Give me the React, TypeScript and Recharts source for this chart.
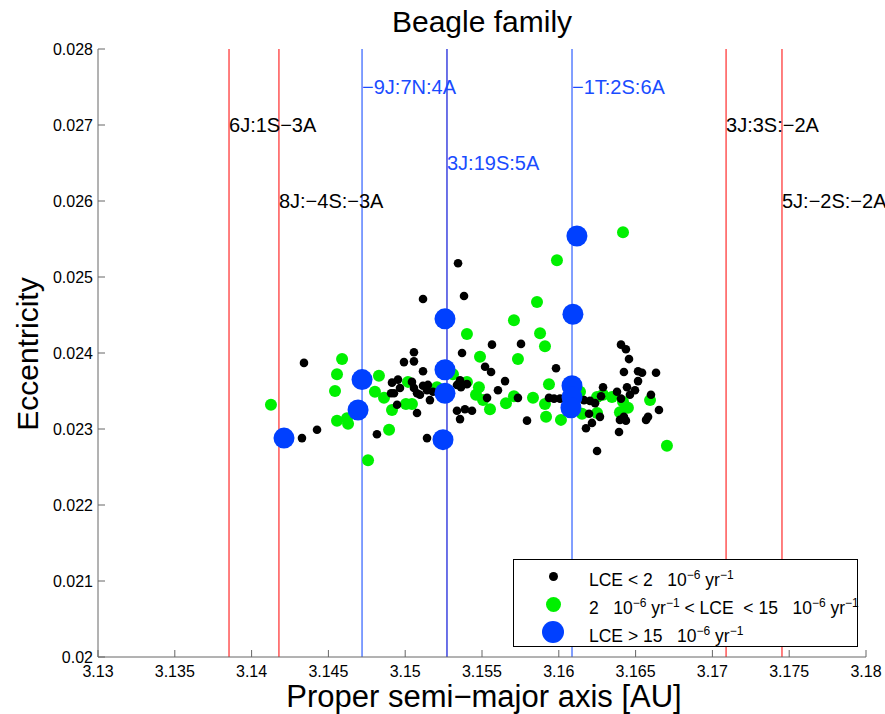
import React from 'react'
import { ScatterChart, Scatter, XAxis, YAxis, ReferenceLine } from 'recharts'

// proper semi-major axis [AU], eccentricity
const lowLce: [number, number][] = [
  [3.14341, 0.02387], [3.14426, 0.02299], [3.14328, 0.02288], [3.14816, 0.02293],
  [3.15057, 0.02401], [3.14992, 0.02388], [3.15057, 0.02389], [3.15116, 0.02376],
  [3.15116, 0.02471], [3.15344, 0.02518], [3.15383, 0.02475], [3.14914, 0.02361],
  [3.14953, 0.02365], [3.14908, 0.02347], [3.14927, 0.02347], [3.15044, 0.02362],
  [3.15057, 0.02354], [3.15077, 0.02347], [3.15116, 0.02357], [3.15148, 0.02358],
  [3.15142, 0.02351], [3.15161, 0.02338], [3.14947, 0.02332], [3.15077, 0.02321],
  [3.15142, 0.02288], [3.15370, 0.02400], [3.15357, 0.02364], [3.15337, 0.02358],
  [3.15402, 0.02359], [3.15363, 0.02355], [3.15337, 0.02324], [3.15389, 0.02326],
  [3.15435, 0.02324], [3.15357, 0.02313], [3.15565, 0.02411], [3.15754, 0.02412],
  [3.15520, 0.02382], [3.15559, 0.02375], [3.15650, 0.02363], [3.15982, 0.02380],
  [3.15604, 0.02351], [3.15533, 0.02341], [3.15734, 0.02341], [3.15936, 0.02341],
  [3.16008, 0.02340], [3.15793, 0.02311], [3.16164, 0.02338], [3.16203, 0.02337],
  [3.16236, 0.02334], [3.16275, 0.02343], [3.16288, 0.02355], [3.16197, 0.02320],
  [3.16216, 0.02308], [3.16268, 0.02316], [3.16177, 0.02301], [3.16249, 0.02271],
  [3.16392, 0.02296], [3.16405, 0.02411], [3.16437, 0.02405], [3.16457, 0.02392],
  [3.16424, 0.02375], [3.16516, 0.02376], [3.16542, 0.02374], [3.16516, 0.02363],
  [3.16633, 0.02374], [3.16444, 0.02355], [3.16496, 0.02351], [3.16463, 0.02345],
  [3.16405, 0.02340], [3.16379, 0.02349], [3.16600, 0.02345], [3.16652, 0.02325],
  [3.16581, 0.02316], [3.16568, 0.02312], [3.16424, 0.02316], [3.16437, 0.02311],
  [3.16398, 0.02312], [3.15969, 0.02340], [3.15181, 0.02349], [3.15096, 0.02345],
  [3.14966, 0.02354],
]

const midLce: [number, number][] = [
  [3.14126, 0.02332], [3.14589, 0.02392], [3.14556, 0.02372], [3.14543, 0.02350],
  [3.14556, 0.02311], [3.14621, 0.02314], [3.14628, 0.02307], [3.14758, 0.02259],
  [3.14829, 0.02370], [3.14803, 0.02349], [3.14862, 0.02341], [3.14914, 0.02325],
  [3.15005, 0.02333], [3.15044, 0.02333], [3.15018, 0.02362], [3.14895, 0.02299],
  [3.15207, 0.02355], [3.15311, 0.02372], [3.15402, 0.02425], [3.15487, 0.02395],
  [3.15734, 0.02392], [3.15878, 0.02426], [3.15910, 0.02409], [3.15936, 0.02359],
  [3.15402, 0.02362], [3.15480, 0.02355], [3.15461, 0.02345], [3.15507, 0.02338],
  [3.15552, 0.02326], [3.15656, 0.02334], [3.15708, 0.02343], [3.15832, 0.02341],
  [3.15910, 0.02333], [3.15917, 0.02316], [3.16014, 0.02312], [3.15988, 0.02522],
  [3.15858, 0.02467], [3.15708, 0.02443], [3.16418, 0.02559], [3.16151, 0.02320],
  [3.16138, 0.02349], [3.16249, 0.02342], [3.16249, 0.02321], [3.16288, 0.02345],
  [3.16346, 0.02342], [3.16418, 0.02336], [3.16450, 0.02328], [3.16398, 0.02322],
  [3.16594, 0.02338], [3.16704, 0.02278],
]

const highLce: [number, number][] = [
  [3.14211, 0.02288], [3.14719, 0.02365], [3.14693, 0.02325], [3.15259, 0.02445],
  [3.15259, 0.02378], [3.15259, 0.02347], [3.15246, 0.02286], [3.16118, 0.02554],
  [3.16092, 0.02451], [3.16086, 0.02357], [3.16086, 0.02342], [3.16079, 0.02328],
]

const resonanceA = [3.13853, 3.14178, 3.14719, 3.15272, 3.16086, 3.17089, 3.17453]
const resonanceNames = ['6J:1S−3A', '8J:−4S:−3A', '−9J:7N:4A', '3J:19S:5A', '−1T:2S:6A', '3J:3S:−2A', '5J:−2S:−2A']
const resonanceLabelE = [0.027, 0.026, 0.0275, 0.0265, 0.0275, 0.027, 0.026]
const resonanceKind = ['red', 'red', 'blue', 'navy', 'blue', 'red', 'red']

const xTicks = [3.13, 3.135, 3.14, 3.145, 3.15, 3.155, 3.16, 3.165, 3.17, 3.175, 3.18]
const yTicks = [0.02, 0.021, 0.022, 0.023, 0.024, 0.025, 0.026, 0.027, 0.028]

const lineColor: Record<string, string> = { red: '#ff2a2a', blue: '#2f5fff', navy: '#0a14d8' }
const textColor: Record<string, string> = { red: '#000000', blue: '#1a4cff', navy: '#1a4cff' }

const FONT = '"Liberation Sans", Arial, Helvetica, sans-serif'
const AXIS = '#666666'

const toPoints = (rows: [number, number][]) => rows.map(([a, e]) => ({ a, e }))

const labelData = resonanceA.map((a, i) => ({
  a, e: resonanceLabelE[i], name: resonanceNames[i], kind: resonanceKind[i],
}))

function XTick({ x, y, payload }: any) {
  return (
    <g>
      <line x1={x} y1={y} x2={x} y2={y - 7} stroke={AXIS} />
      <text x={x} y={y + 20} textAnchor="middle" fontSize={16} fontFamily={FONT} fill="#000">
        {String(payload.value)}
      </text>
    </g>
  )
}

function YTick({ x, y, payload }: any) {
  return (
    <g>
      <line x1={x} y1={y} x2={x + 7} y2={y} stroke={AXIS} />
      <text x={x - 5} y={y + 6} textAnchor="end" fontSize={16} fontFamily={FONT} fill="#000">
        {String(Number(payload.value.toFixed(3)))}
      </text>
    </g>
  )
}

const dot = (r: number, fill: string) => (p: any) => <circle cx={p.cx} cy={p.cy} r={r} fill={fill} />

function ResonanceText(p: any) {
  const d = p.payload
  return (
    <text x={p.cx} y={p.cy} dy="0.36em" fontSize={20} fontFamily={FONT} fill={textColor[d.kind]}>
      {d.name}
    </text>
  )
}

const Unit = () => (
  <span>10<sup style={{ fontSize: 12 }}>−6</sup> yr<sup style={{ fontSize: 12 }}>−1</sup></span>
)

export default function App() {
  return (
    <div style={{ position: 'absolute', left: 0, top: 0, width: 885, height: 714, background: '#fff', fontFamily: FONT, overflow: 'hidden' }}>
      <ScatterChart width={885} height={714} margin={{ top: 49, right: 19, left: 0, bottom: 0 }}>
        <XAxis
          type="number" dataKey="a" domain={[3.13, 3.18]} ticks={xTicks} height={57}
          tickSize={0} tickMargin={0} tick={<XTick />} axisLine={{ stroke: AXIS }} tickLine={false}
        />
        <YAxis
          type="number" dataKey="e" domain={[0.02, 0.028]} ticks={yTicks} width={98}
          tickSize={0} tickMargin={0} tick={<YTick />} axisLine={{ stroke: AXIS }} tickLine={false}
        />
        {resonanceA.map((a, i) => (
          <ReferenceLine key={i} x={a} stroke={lineColor[resonanceKind[i]]} strokeWidth={1.2} />
        ))}
        <Scatter data={toPoints(midLce)} shape={dot(6, '#00f000')} isAnimationActive={false} />
        <Scatter data={toPoints(lowLce)} shape={dot(4.3, '#000000')} isAnimationActive={false} />
        <Scatter data={toPoints(highLce)} shape={dot(10.5, '#0040ff')} isAnimationActive={false} />
        <Scatter data={labelData} shape={ResonanceText} isAnimationActive={false} />
      </ScatterChart>

      <div style={{ position: 'absolute', left: 0, width: 964, top: 6, textAlign: 'center', fontSize: 30, lineHeight: '32px' }}>
        Beagle family
      </div>
      <div style={{ position: 'absolute', left: 484, top: 685, transform: 'translateX(-50%)', whiteSpace: 'nowrap', fontSize: 31, lineHeight: '23px' }}>
        Proper semi−major axis [AU]
      </div>
      <div style={{ position: 'absolute', left: 28, top: 354, transform: 'translate(-50%, -50%) rotate(-90deg)', whiteSpace: 'nowrap', fontSize: 30, lineHeight: '32px' }}>
        Eccentricity
      </div>

      {/* legend */}
      <div style={{ position: 'absolute', left: 513, top: 559, width: 345, height: 88, background: '#fff', fontSize: 17.5, whiteSpace: 'pre' }}>
        {[
          { r: 4.5, c: '#000000', t: <span>LCE &lt; 2   <Unit /></span> },
          { r: 7.5, c: '#00f000', t: <span>2   <Unit /> &lt; LCE  &lt; 15   <Unit /></span> },
          { r: 11, c: '#0040ff', t: <span>LCE &gt; 15   <Unit /></span> },
        ].map((row, i) => (
          <div key={i} style={{ position: 'absolute', left: 0, top: 17 + i * 28, height: 0 }}>
            <div style={{ position: 'absolute', left: 40 - row.r, top: -row.r, width: row.r * 2, height: row.r * 2, borderRadius: '50%', background: row.c }} />
            <div style={{ position: 'absolute', left: 76, top: -12, lineHeight: '22px' }}>{row.t}</div>
          </div>
        ))}
        <div style={{ position: 'absolute', inset: 0, border: '1px solid #000' }} />
      </div>
    </div>
  )
}
